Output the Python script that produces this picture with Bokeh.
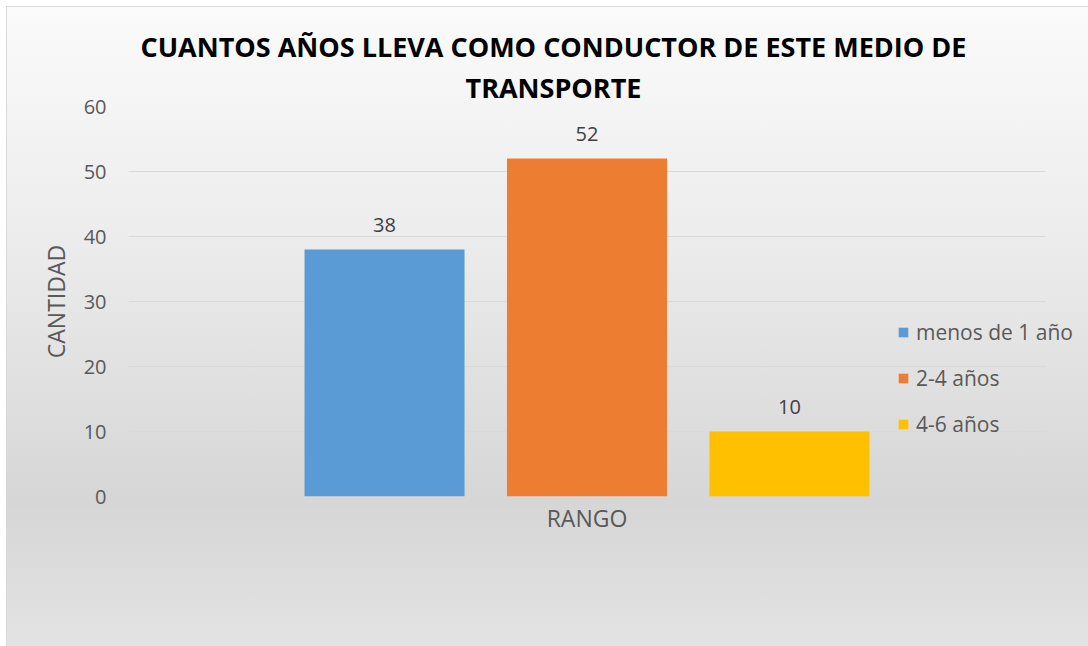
from bokeh.plotting import figure
from bokeh.models import (Range1d, ColumnDataSource, Legend, LegendItem, Title,
                          LabelSet, FixedTicker)
from bokeh.transform import dodge
from bokeh.core.properties import value
from bokeh.embed import file_html
from bokeh.resources import INLINE

# ---- data ----
group = ["RANGO"]
series = ["menos de 1 año", "2-4 años", "4-6 años"]
counts = [38, 52, 10]
colors = ["#5B9BD5", "#ED7D31", "#FFC000"]
y_ticks = [0, 10, 20, 30, 40, 50, 60]
title_lines = ["CUANTOS AÑOS LLEVA COMO CONDUCTOR DE ESTE MEDIO DE", "TRANSPORTE"]
y_label = "CANTIDAD"

FONT = "Open Sans"
TITLE_FONT = "Open Sans"

W, H = 1088, 646
p = figure(width=W, height=H, x_range=Range1d(-0.5, 0.5469),
           y_range=Range1d(y_ticks[0], y_ticks[-1]), output_backend="svg",
           toolbar_location=None,
           min_border_left=128, min_border_right=0, min_border_top=106,
           min_border_bottom=150)
p.background_fill_color = None
p.border_fill_color = None
p.outline_line_color = None
p.styles = {"background": "linear-gradient(180deg, #fbfbfb 0%, #ededed 35%, #d6d6d6 78%, #e3e3e3 100%)",
            "box-shadow": "inset 6px 6px 0 0 #ffffff, inset 7px 7px 0 0 #d9d9d9"}

step = 0.2208
width = 0.1745
xs = list(range(len(group)))
renderers = []
for i, (name, val, col) in enumerate(zip(series, counts, colors)):
    src = ColumnDataSource(dict(x=xs, top=[val], lbl=[str(val)]))
    off = (i - 1) * step
    r = p.vbar(x=dodge("x", off), top="top", width=width,
               source=src, fill_color=col, line_color=None)
    renderers.append((name, r))
    ls = LabelSet(x=dodge("x", off), y="top", text="lbl", source=src,
                  text_align="center", text_baseline="middle", y_offset=25,
                  text_font=value(FONT), text_font_size="20px", text_color="#404040")
    p.add_layout(ls)

# axes
p.yaxis.ticker = FixedTicker(ticks=y_ticks)
p.yaxis.axis_line_color = None
p.yaxis.major_tick_line_color = None
p.yaxis.minor_tick_line_color = None
p.yaxis.major_tick_out = 0
p.yaxis.major_tick_in = 0
p.yaxis.major_label_standoff = 22
p.yaxis.major_label_text_font = FONT
p.yaxis.major_label_text_font_size = "20px"
p.yaxis.major_label_text_color = "#595959"
p.yaxis.axis_label = y_label
p.yaxis.axis_label_text_font = FONT
p.yaxis.axis_label_text_font_style = "normal"
p.yaxis.axis_label_text_font_size = "23px"
p.yaxis.axis_label_text_color = "#595959"
p.yaxis.axis_label_standoff = 9

p.xaxis.ticker = FixedTicker(ticks=xs)
p.xaxis.major_label_overrides = {x: g for x, g in zip(xs, group)}
p.xaxis.axis_line_color = None
p.xaxis.major_tick_line_color = None
p.xaxis.minor_tick_line_color = None
p.xaxis.major_tick_out = 0
p.xaxis.major_tick_in = 0
p.xaxis.major_label_standoff = 5
p.xaxis.major_label_text_font = FONT
p.xaxis.major_label_text_font_size = "23px"
p.xaxis.major_label_text_color = "#595959"

p.xgrid.grid_line_color = None
p.ygrid.ticker = FixedTicker(ticks=y_ticks)
p.ygrid.grid_line_color = "#d9d9d9"
p.ygrid.grid_line_width = 1
if "cross_bounds" in p.ygrid.properties():
    p.ygrid.cross_bounds = (-0.5, 0.5)

# legend
legend = Legend(items=[LegendItem(label=n, renderers=[r]) for n, r in renderers],
                location=(769, 58), orientation="vertical",
                glyph_width=12, glyph_height=12, label_height=24, spacing=18,
                padding=0, margin=0, label_standoff=7,
                label_text_font=FONT, label_text_font_size="21px",
                label_text_color="#595959",
                background_fill_alpha=0, border_line_color=None)
p.add_layout(legend, "center")

# title: two lines stacked in the top panel
def make_title(txt, off):
    return Title(text=txt, align="left", offset=off, standoff=2,
                 text_font=TITLE_FONT, text_font_style="bold",
                 text_font_size="27px", text_color="#000000")

p.title = make_title(title_lines[0], 12)
p.add_layout(make_title(title_lines[1], 337), "above")

open("out.html", "w").write(file_html(p, INLINE))
